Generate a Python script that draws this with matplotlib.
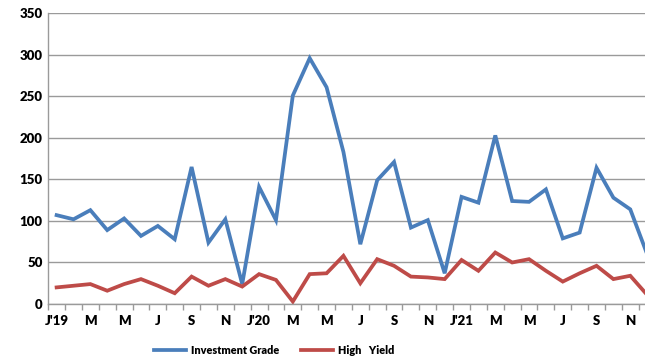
import matplotlib
matplotlib.use("Agg")
import matplotlib.pyplot as plt
import numpy as np

months = ["J'19","F","M","A","M","J","J","A","S","O","N","D",
          "J'20","F","M","A","M","J","J","A","S","O","N","D",
          "J'21","F","M","A","M","J","J","A","S","O","N","D"]
investment_grade = [107,102,113,89,103,82,94,78,165,74,102,24,
                    141,101,251,296,261,183,72,149,171,92,101,37,
                    129,122,203,124,123,138,79,86,164,128,114,60]
high_yield = [20,22,24,16,24,30,22,13,33,22,30,21,
              36,29,3,36,37,58,25,54,46,33,32,30,
              53,40,62,50,54,40,27,37,46,30,34,11]
y_ticks = [0,50,100,150,200,250,300,350]

plt.rcParams['font.family'] = ['Lato', 'DejaVu Sans']

fig = plt.figure(figsize=(6.45,3.58), dpi=100)
ax = fig.add_axes([0.0747, 0.1508, 0.9417, 0.812])
x = np.arange(len(months))
blue = '#4A7EBB'
red = '#BE4B48'
ax.plot(x, investment_grade, color=blue, lw=2.7, label='Investment Grade', solid_joinstyle='miter')
ax.plot(x, high_yield, color=red, lw=2.7, label='High   Yield', solid_joinstyle='miter')

ax.set_xlim(-0.5, 35.5)
ax.set_ylim(0, 350)
ax.set_yticks(y_ticks)
ax.set_yticklabels([str(v) for v in y_ticks], fontsize=9.5, fontweight='heavy')
ax.yaxis.grid(True, color='#9a9a9a', lw=1)
ax.set_axisbelow(True)
ax.tick_params(axis='y', length=0, pad=4)

major = x[::2]
ax.set_xticks(major)
ax.set_xticklabels([months[i] for i in major], fontsize=9.5, fontweight='heavy')
ax.set_xticks(np.arange(-0.5, 36, 1), minor=True)
ax.tick_params(axis='x', which='major', length=0, pad=8)
ax.tick_params(axis='x', which='minor', length=4, color='#9a9a9a', width=1)

for s in ['top','right']:
    ax.spines[s].set_visible(False)
for s in ['left','bottom']:
    ax.spines[s].set_color('#9a9a9a')
    ax.spines[s].set_linewidth(1)

fig.legend(loc='center', bbox_to_anchor=(0.425, 0.022), ncol=2, frameon=False,
           prop={'size':7.8, 'weight':'heavy'}, handlelength=2.95, columnspacing=2.0,
           handletextpad=0.45)

fig.savefig('out.png', dpi=100)
